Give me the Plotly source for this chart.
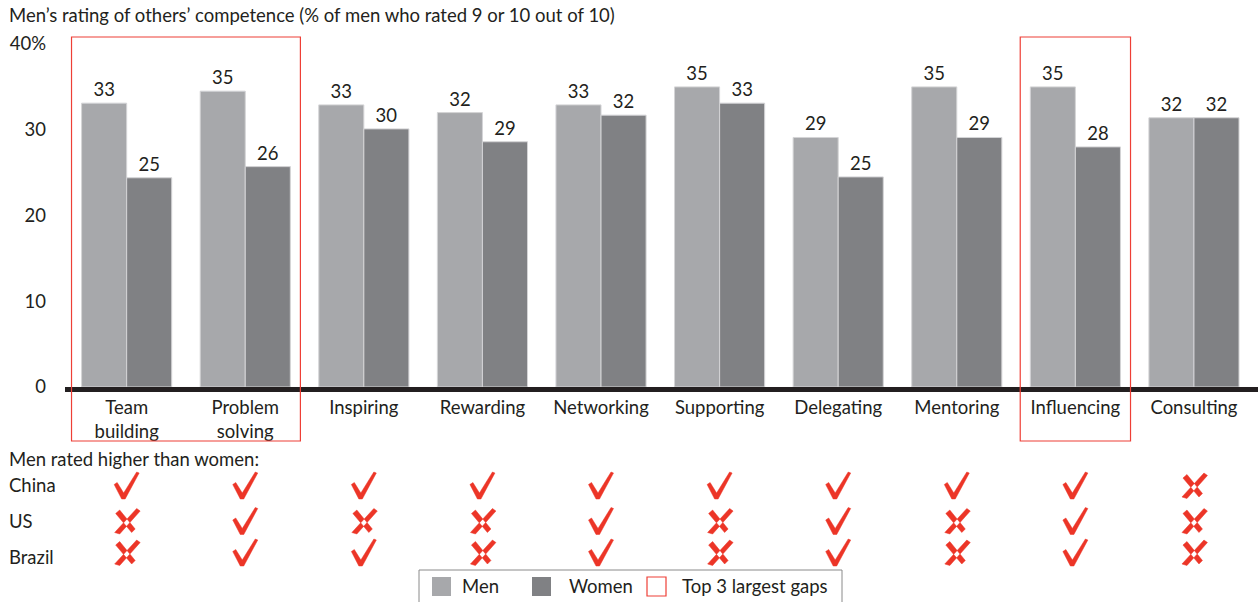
import plotly.graph_objects as go

categories = ["Team<br>building", "Problem<br>solving", "Inspiring", "Rewarding", "Networking",
              "Supporting", "Delegating", "Mentoring", "Influencing", "Consulting"]
men_values = [33.1, 34.5, 32.9, 32.0, 32.9, 35.0, 29.1, 35.0, 35.0, 31.4]
women_values = [24.4, 25.7, 30.1, 28.6, 31.7, 33.1, 24.5, 29.1, 28.0, 31.4]
men_labels = ["33", "35", "33", "32", "33", "35", "29", "35", "35", "32"]
women_labels = ["25", "26", "30", "29", "32", "33", "25", "29", "28", "32"]
y_tickvals = [0, 10, 20, 30, 40]
y_ticktext = ["0", "10", "20", "30", "40%"]

countries = ["China", "US", "Brazil"]
# True = men rated higher than women (check), False = cross
men_higher = {
    "China":  [True, True, True, True, True, True, True, True, True, False],
    "US":     [False, True, False, False, True, False, True, False, True, False],
    "Brazil": [False, True, True, False, True, False, True, False, True, False],
}
top_gap_groups = [(0, 1), (8, 8)]  # category index ranges with largest gaps

MEN_COLOR = "#a7a8ab"
WOMEN_COLOR = "#808184"
RED = "#ee3f36"
MARK_RED = "#ec3527"
TXT = "#231f20"
FONT = "Lato"
FS = 18.5

W, H = 1258, 602
ML, MR, MT, MB = 65, 0, 44, 215
PW, PH = W - ML - MR, H - MT - MB


def px(p):
    return (p - ML) / PW


def py(p):
    return (H - MB - p) / PH


# glyph outlines (pixels relative to the glyph centre, screen orientation: y down)
CHECK = [[(-12.5, -1.0), (-9.5, -3.0), (-3.0, 7.5), (10.0, -13.5), (12.5, -12.5),
          (-1.5, 13.5), (-5.0, 13.5)]]
CROSS = [[(10.0, -12.5), (13.5, -10.0), (-7.0, 13.0), (-12.0, 11.5)],
         [(-11.0, -7.5), (-7.0, -11.0), (8.5, 8.0), (5.0, 11.5)]]


def glyph_path(polys):
    parts = []
    for poly in polys:
        pts = " L".join(f"{x:.1f},{-y:.1f}" for x, y in poly)
        parts.append("M" + pts + " Z")
    return " ".join(parts)


fig = go.Figure()
fig.add_trace(go.Bar(x=categories, y=men_values, name="Men", marker_color=MEN_COLOR,
                     marker_line=dict(color="#d4d4d6", width=1),
                     text=men_labels, textposition="outside", cliponaxis=False,
                     textfont=dict(size=FS, color=TXT, family=FONT), showlegend=False))
fig.add_trace(go.Bar(x=categories, y=women_values, name="Women", marker_color=WOMEN_COLOR,
                     marker_line=dict(color="#d4d4d6", width=1),
                     text=women_labels, textposition="outside", cliponaxis=False,
                     textfont=dict(size=FS, color=TXT, family=FONT), showlegend=False))

shapes = []
annotations = []

# red boxes around top-gap groups
for a, b in top_gap_groups:
    shapes.append(dict(type="rect", xref="x", yref="paper",
                       x0=a - 0.465, x1=b + 0.465, y0=py(441), y1=py(37),
                       line=dict(color=RED, width=1.2), fillcolor="rgba(0,0,0,0)", layer="above"))

# title
annotations.append(dict(text="Men\u2019s rating of others\u2019 competence (% of men who rated 9 or 10 out of 10)",
                        xref="paper", yref="paper", x=px(7), y=py(15), xanchor="left", yanchor="middle",
                        showarrow=False, font=dict(size=FS, color=TXT, family=FONT)))
annotations.append(dict(text="Men rated higher than women:", xref="paper", yref="paper",
                        x=px(7), y=py(459), xanchor="left", yanchor="middle",
                        showarrow=False, font=dict(size=FS, color=TXT, family=FONT)))

row_y = {"China": 485, "US": 521, "Brazil": 557}
mark_y = {"China": 485.5, "US": 521, "Brazil": 552.5}
check_path = glyph_path(CHECK)
cross_path = glyph_path(CROSS)
for c in countries:
    annotations.append(dict(text=c, xref="paper", yref="paper", x=px(7), y=py(row_y[c]),
                            xanchor="left", yanchor="middle", showarrow=False,
                            font=dict(size=FS, color=TXT, family=FONT)))
    for i, v in enumerate(men_higher[c]):
        shapes.append(dict(type="path", xref="x", yref="paper",
                           xsizemode="pixel", ysizemode="pixel",
                           xanchor=i, yanchor=py(mark_y[c]),
                           path=check_path if v else cross_path,
                           fillcolor=MARK_RED, line=dict(color=MARK_RED, width=0.5)))

# legend (manual)
shapes.append(dict(type="rect", xref="paper", yref="paper", x0=px(419), x1=px(842),
                   y0=py(603), y1=py(570), line=dict(color="#8a8a8a", width=1)))
shapes.append(dict(type="rect", xref="paper", yref="paper", x0=px(432), x1=px(451),
                   y0=py(596), y1=py(577), line=dict(width=0), fillcolor=MEN_COLOR))
shapes.append(dict(type="rect", xref="paper", yref="paper", x0=px(532), x1=px(551),
                   y0=py(596), y1=py(577), line=dict(width=0), fillcolor=WOMEN_COLOR))
shapes.append(dict(type="rect", xref="paper", yref="paper", x0=px(647), x1=px(666),
                   y0=py(596), y1=py(577), line=dict(color=RED, width=1.2)))
for label, xx in [("Men", 460), ("Women", 567), ("Top 3 largest gaps", 680)]:
    annotations.append(dict(text=label, xref="paper", yref="paper", x=px(xx), y=py(586),
                            xanchor="left", yanchor="middle", showarrow=False,
                            font=dict(size=FS, color=TXT, family=FONT)))

fig.update_layout(
    width=W, height=H,
    margin=dict(l=ML, r=MR, t=MT, b=MB),
    paper_bgcolor="white", plot_bgcolor="white",
    barmode="group", bargap=0.24, bargroupgap=0,
    font=dict(family=FONT, size=FS, color=TXT),
    shapes=shapes, annotations=annotations,
    xaxis=dict(range=[-0.52, 9.54], showline=True, linecolor=TXT, linewidth=5,
               showgrid=False, ticks="", tickfont=dict(size=FS, color=TXT, family=FONT),
               fixedrange=True),
    yaxis=dict(range=[0, 40], tickvals=y_tickvals, ticktext=y_ticktext, showgrid=False,
               zeroline=False, showline=False, ticks="", ticklabelstandoff=18,
               tickfont=dict(size=FS, color=TXT, family=FONT), fixedrange=True),
)

fig.write_html("out.html", config={"displayModeBar": False},
               post_script="document.body.style.margin='0';document.body.style.overflow='hidden';")
